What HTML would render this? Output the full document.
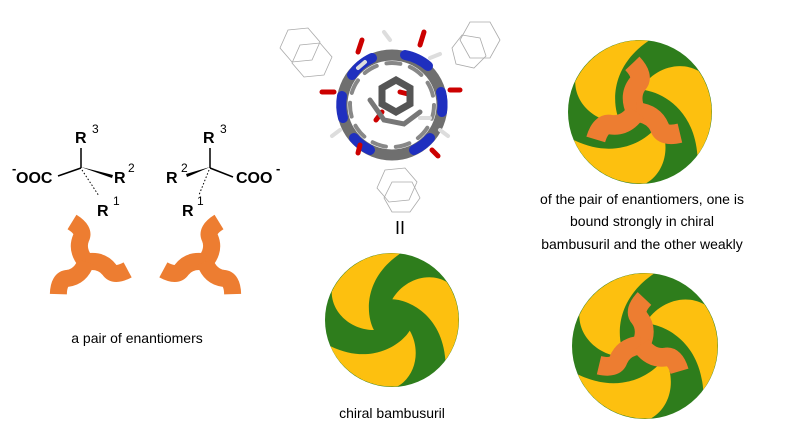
<!DOCTYPE html>
<html><head><meta charset="utf-8"><style>
html,body{margin:0;padding:0;background:#fff;}
svg{display:block;font-family:"Liberation Sans",Arial,sans-serif;}
</style></head><body>
<svg width="800" height="447" viewBox="0 0 800 447" xmlns="http://www.w3.org/2000/svg">
<defs>
  <g id="swirl">
    <circle cx="0" cy="0" r="1" fill="#2e7d1c"/>
    <g id="arm" fill="#fdc00f">
      <path d="M0.12,-0.99 A1,1 0 0 0 -0.9,-0.42 C-0.9,-0.1 -0.6,0.15 -0.27,0.15 C-0.38,-0.05 -0.45,-0.6 0.12,-0.99 Z"/>
    </g>
    <use href="#arm" transform="rotate(120)"/>
    <use href="#arm" transform="rotate(240)"/>
  </g>
  <g id="tri" fill="none" stroke="#ed7d31" stroke-width="17" stroke-linecap="butt">
    <path id="tarm" d="M0,0 Q-10,-12 -5,-24 Q-1,-32 -14,-40"/>
    <use href="#tarm" transform="rotate(120)"/>
    <use href="#tarm" transform="rotate(240)"/>
  </g>
</defs>

<!-- left molecules -->
<g font-size="16" font-weight="bold" fill="#000">
  <text x="16" y="183">OOC</text>
  <text x="12" y="173" font-size="13">-</text>
  <text x="75" y="143">R</text><text x="92" y="133" font-size="12" font-weight="normal">3</text>
  <text x="114" y="183">R</text><text x="128" y="172" font-size="12" font-weight="normal">2</text>
  <text x="97" y="216">R</text><text x="113" y="205" font-size="12" font-weight="normal">1</text>

  <text x="203" y="143">R</text><text x="220" y="133" font-size="12" font-weight="normal">3</text>
  <text x="166" y="183">R</text><text x="181" y="172" font-size="12" font-weight="normal">2</text>
  <text x="236" y="183">COO</text><text x="276" y="173" font-size="13">-</text>
  <text x="182" y="216">R</text><text x="197" y="205" font-size="12" font-weight="normal">1</text>
</g>
<g stroke="#000" stroke-width="1.5" fill="none">
  <line x1="81" y1="148" x2="81" y2="168"/>
  <line x1="58" y1="176" x2="81" y2="168"/>
  <line x1="210" y1="148" x2="210" y2="168"/>
  <line x1="210" y1="168" x2="233" y2="177"/>
</g>
<polygon points="81,167 113,175 112,178" fill="#000"/>
<polygon points="210,167 186,174 187,177" fill="#000"/>
<g stroke="#000" stroke-width="1" stroke-dasharray="1.5,2">
  <line x1="82" y1="170" x2="99" y2="196"/>
  <line x1="209" y1="170" x2="199" y2="195"/>
</g>

<use href="#tri" transform="translate(86,262)"/>
<use href="#tri" transform="translate(205,262) scale(-1,1)"/>
<text x="137" y="343" font-size="14" text-anchor="middle">a pair of enantiomers</text>

<!-- molecule -->
<g fill="none" stroke="#aaa" stroke-width="0.8">
  <polygon points="288,30 308,28 320,42 312,60 292,62 280,48"/>
  <polygon points="300,45 320,43 332,57 324,75 304,77 292,63"/>
  <polygon points="470,22 490,22 500,40 490,58 470,58 460,40"/>
  <polygon points="462,35 480,38 486,56 474,68 456,64 452,48"/>
  <polygon points="385,170 405,168 417,182 409,200 389,202 377,188"/>
  <polygon points="392,182 412,182 420,198 410,212 392,212 384,198"/>
</g>
<g stroke-linecap="round" fill="none">
  <circle cx="392" cy="105" r="50" stroke="#6f6f6f" stroke-width="11"/>
  <circle cx="392" cy="105" r="42" stroke="#888" stroke-width="4" stroke-dasharray="14,10"/>
  <path d="M352,75 A50,50 0 0 1 372,58" stroke="#1f2fbf" stroke-width="10"/>
  <path d="M405,55 A50,50 0 0 1 428,66" stroke="#1f2fbf" stroke-width="10"/>
  <path d="M441,92 A50,50 0 0 1 442,112" stroke="#1f2fbf" stroke-width="10"/>
  <path d="M430,138 A50,50 0 0 1 414,150" stroke="#1f2fbf" stroke-width="10"/>
  <path d="M370,150 A50,50 0 0 1 354,138" stroke="#1f2fbf" stroke-width="10"/>
  <path d="M343,118 A50,50 0 0 1 342,96" stroke="#1f2fbf" stroke-width="10"/>
  <g stroke="#c00" stroke-width="5">
    <line x1="358" y1="52" x2="362" y2="40"/><line x1="420" y1="45" x2="424" y2="32"/>
    <line x1="450" y1="90" x2="460" y2="90"/><line x1="432" y1="150" x2="438" y2="156"/>
    <line x1="360" y1="145" x2="358" y2="153"/><line x1="334" y1="92" x2="322" y2="92"/>
    <line x1="400" y1="92" x2="408" y2="94"/><line x1="382" y1="112" x2="376" y2="120"/>
  </g>
  <path d="M382,88 L396,80 L410,88 L410,104 L396,112 L382,104 Z" stroke="#555" stroke-width="7"/>
  <path d="M370,100 L384,120 L404,124 L420,112" stroke="#777" stroke-width="5"/>
  <g stroke="#ddd" stroke-width="4">
    <line x1="390" y1="40" x2="384" y2="32"/><line x1="430" y1="58" x2="440" y2="54"/>
    <line x1="365" y1="62" x2="358" y2="68"/><line x1="420" y1="118" x2="430" y2="118"/>
    <line x1="340" y1="130" x2="332" y2="136"/><line x1="440" y1="130" x2="448" y2="136"/>
  </g>
</g>
<text x="400" y="234" font-size="18" text-anchor="middle">II</text>

<!-- bambusurils -->
<use href="#swirl" transform="translate(392,320) scale(67)"/>
<text x="392" y="418" font-size="14" text-anchor="middle">chiral bambusuril</text>

<use href="#swirl" transform="translate(640,112) scale(72)"/>
<use href="#tri" transform="translate(636,112) rotate(15) scale(1.15)"/>

<use href="#swirl" transform="translate(645,346) scale(73)"/>
<use href="#tri" transform="translate(641,345) rotate(-15) scale(-1.1,1.1)"/>

<g font-size="14" text-anchor="middle">
  <text x="642" y="204">of the pair of enantiomers, one is</text>
  <text x="642" y="226">bound strongly in chiral</text>
  <text x="642" y="249">bambusuril and the other weakly</text>
</g>
</svg>
</body></html>
